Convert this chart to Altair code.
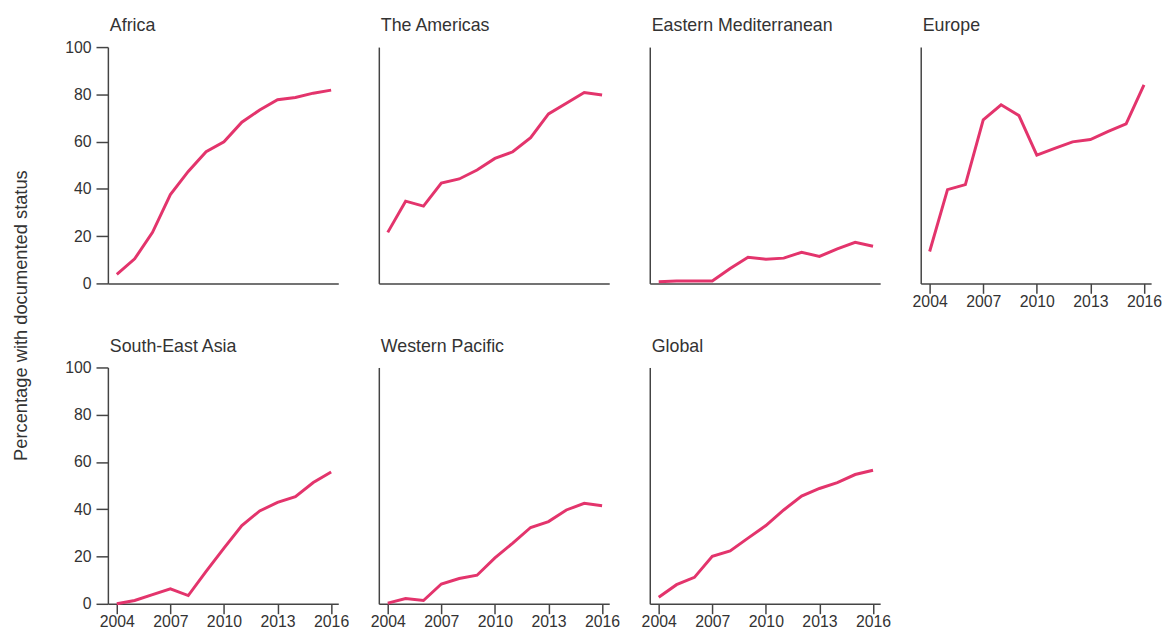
import altair as alt
import pandas as pd

years = list(range(2004, 2017))
regions = ["Africa", "The Americas", "Eastern Mediterranean", "Europe",
           "South-East Asia", "Western Pacific", "Global"]

africa = [3.8, 10.4, 21.6, 37.6, 47.4, 55.7, 59.9, 68.2, 73.4, 77.7, 78.7, 80.5, 81.8]
americas = [21.6, 34.8, 32.7, 42.5, 44.2, 48.0, 52.9, 55.7, 61.7, 71.7, 76.2, 80.8, 79.7]
eastern_med = [0.7, 1.0, 1.0, 1.0, 6.3, 11.1, 10.2, 10.7, 13.2, 11.4, 14.6, 17.4, 15.7]
europe = [13.5, 39.7, 41.8, 69.2, 75.6, 71.0, 54.3, 57.1, 59.9, 60.9, 64.3, 67.5, 84.0]
se_asia = [0.0, 1.4, 3.9, 6.3, 3.5, 13.7, 23.6, 33.1, 39.3, 42.9, 45.3, 51.3, 55.8]
w_pacific = [0.3, 2.2, 1.4, 8.4, 10.7, 12.1, 19.4, 25.7, 32.3, 34.8, 39.7, 42.5, 41.5]
global_ = [2.8, 8.1, 11.2, 20.1, 22.4, 27.8, 33.1, 39.7, 45.6, 48.8, 51.3, 54.7, 56.5]

x_ticks = [2004, 2007, 2010, 2013, 2016]
y_ticks = [0, 20, 40, 60, 80, 100]
y_title = "Percentage with documented status"

series = [africa, americas, eastern_med, europe, se_asia, w_pacific, global_]
rows = []
for name, vals in zip(regions, series):
    for yr, v in zip(years, vals):
        rows.append({"region": name, "year": yr, "value": v})
df = pd.DataFrame(rows)

LINE = "#e3346c"
AXC = "#444444"
TXT = "#333333"
FONT = "Liberation Sans"

first_col = {"Africa", "South-East Asia"}
show_x = {"Europe", "South-East Asia", "Western Pacific", "Global"}

charts = []
for name in regions:
    if name in show_x:
        xaxis = alt.Axis(values=x_ticks, format="d", title=None, grid=False,
                         tickSize=10, labelPadding=0, labelFontSize=16,
                         labelColor=TXT, tickColor=AXC, domainColor=AXC,
                         domainWidth=1.5, tickWidth=1.5, labelFont=FONT)
    else:
        xaxis = alt.Axis(labels=False, ticks=False, title=None, grid=False,
                         domainColor=AXC, domainWidth=1.5)
    if name in first_col:
        kw = dict(values=y_ticks, grid=False,
                  tickSize=12, labelPadding=5, labelFontSize=16,
                  labelColor=TXT, tickColor=AXC, domainColor=AXC,
                  domainWidth=1.5, tickWidth=1.5, labelFont=FONT)
        if name == "Africa":
            yaxis = alt.Axis(title=y_title, titleFont=FONT, titleFontSize=18.5,
                             titleFontWeight="normal", titleColor=TXT,
                             titlePadding=35, titleY=271, **kw)
        else:
            yaxis = alt.Axis(title=None, **kw)
        toff = 4
    else:
        yaxis = alt.Axis(labels=False, ticks=False, title=None, grid=False,
                         domainColor=AXC, domainWidth=1.5)
        toff = 12
    c = alt.Chart(df).transform_filter(
        alt.datum.region == name
    ).mark_line(color=LINE, strokeWidth=3).encode(
        x=alt.X("year:Q", scale=alt.Scale(domain=[2003.5, 2016.4], nice=False, zero=False), axis=xaxis),
        y=alt.Y("value:Q", scale=alt.Scale(domain=[0, 100], nice=False), axis=yaxis),
    ).properties(
        width=233, height=239,
        title=alt.TitleParams(name, anchor="start", font=FONT, fontSize=18,
                              fontWeight="normal", color=TXT, offset=toff, dx=2,
                              frame="group")
    )
    charts.append(c)

chart = alt.concat(*charts, columns=4, spacing=alt.RowColnumber(row=85, column=41),
                   bounds="flush").properties(
    padding={"left": 3, "top": 6, "right": 0, "bottom": 0}
).configure_view(stroke=None)

chart.save("out.html", embed_options={"renderer": "svg", "actions": False})
